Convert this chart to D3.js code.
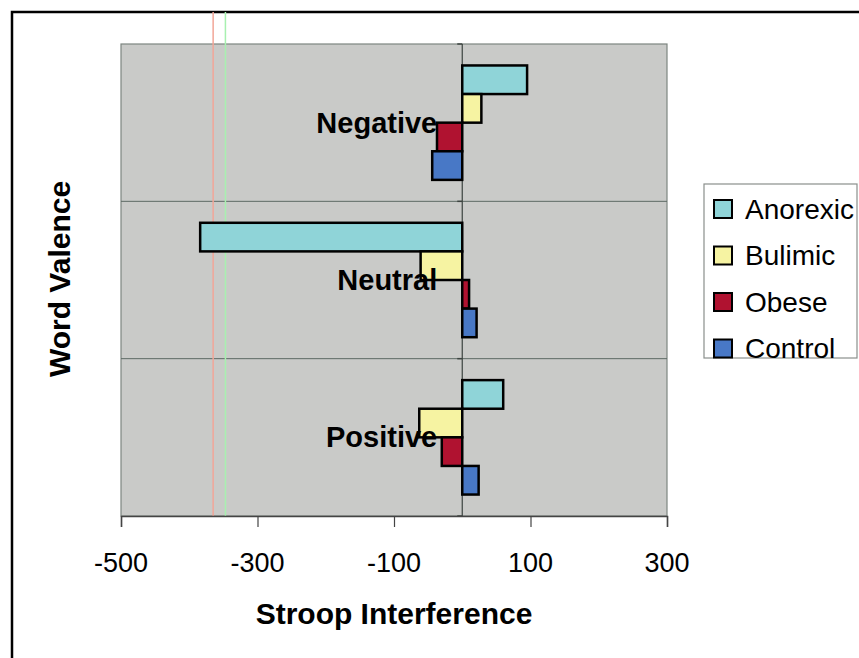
<!DOCTYPE html>
<html>
<head>
<meta charset="utf-8">
<script src="https://cdn.jsdelivr.net/npm/d3@7"></script>
<style>
body { margin: 0; background: #fff; }
svg { display: block; }
text { font-family: "Liberation Sans", Arial, sans-serif; fill: #000; }
</style>
</head>
<body>
<svg id="chart" width="859" height="658"></svg>
<script>
var CATEGORIES = ["Negative", "Neutral", "Positive"];
var SERIES = ["Anorexic", "Bulimic", "Obese", "Control"];
var ANOREXIC = [95, -384, 60];
var BULIMIC = [28, -61, -63];
var OBESE = [-37, 10, -30];
var CONTROL = [-44, 21, 24];
var X_TICKS = [-500, -300, -100, 100, 300];
var COLORS = ["#8fd4d8", "#f6f3a2", "#b01230", "#4878c6"];

var values = [ANOREXIC, BULIMIC, OBESE, CONTROL];
var LEFT = 121, RIGHT = 667, TOP = 44, BOTTOM = 516;

var svg = d3.select("#chart");

// outer chart frame (only top / left visible in the scan)
svg.append("path").attr("d", "M12,658V12H859").attr("fill", "none").attr("stroke", "#000").attr("stroke-width", 2.5);

var x = d3.scaleLinear().domain([-500, 300]).range([LEFT, RIGHT]);
var y = d3.scaleBand().domain(CATEGORIES).range([TOP, BOTTOM]);
var inner = d3.scaleBand().domain(SERIES).range([0, y.bandwidth()]).paddingOuter(0.75);

svg.append("rect").attr("x", LEFT).attr("y", TOP).attr("width", RIGHT - LEFT).attr("height", BOTTOM - TOP)
	.attr("fill", "#c9cac8").attr("stroke", "#7d8580").attr("stroke-width", 1.2);

// category grid lines
svg.selectAll("line.grid").data(CATEGORIES.slice(1)).enter().append("line").attr("class", "grid")
	.attr("x1", LEFT).attr("x2", RIGHT).attr("y1", d => y(d)).attr("y2", d => y(d))
	.attr("stroke", "#5d6a64").attr("stroke-width", 1);

// scan artefact lines
svg.append("line").attr("x1", x(-365)).attr("x2", x(-365)).attr("y1", 12).attr("y2", BOTTOM).attr("stroke", "#f2a698").attr("stroke-width", 1.5);
svg.append("line").attr("x1", x(-347)).attr("x2", x(-347)).attr("y1", 12).attr("y2", BOTTOM).attr("stroke", "#a8f0b0").attr("stroke-width", 1.5);

// zero axis with small ticks at category boundaries
svg.append("line").attr("x1", x(0)).attr("x2", x(0)).attr("y1", TOP).attr("y2", BOTTOM).attr("stroke", "#3c4440").attr("stroke-width", 1.2);
svg.selectAll("line.ytick").data([TOP, y("Neutral"), y("Positive"), BOTTOM]).enter().append("line").attr("class", "ytick")
	.attr("x1", x(0) - 5).attr("x2", x(0)).attr("y1", d => d).attr("y2", d => d).attr("stroke", "#3c4440").attr("stroke-width", 1.5);

// x axis
var xAxis = svg.append("g").attr("transform", "translate(0," + BOTTOM + ")")
	.call(d3.axisBottom(x).tickValues(X_TICKS).tickSize(11).tickFormat(""));
xAxis.select(".domain").attr("stroke", "#444").attr("stroke-width", 1.5);
xAxis.selectAll(".tick line").attr("stroke", "#444").attr("stroke-width", 1.2);
svg.selectAll("text.xlabel").data(X_TICKS).enter().append("text").attr("class", "xlabel")
	.attr("x", d => x(d)).attr("y", 572).attr("text-anchor", "middle").attr("font-size", 27).text(d => d);

// bars
var groups = svg.selectAll("g.cat").data(CATEGORIES).enter().append("g").attr("class", "cat")
	.attr("transform", d => "translate(0," + y(d) + ")");

groups.selectAll("rect.bar").data((c, ci) => SERIES.map((s, si) => ({ s: s, si: si, v: values[si][ci] })))
	.enter().append("rect").attr("class", "bar")
	.attr("x", d => x(Math.min(0, d.v))).attr("width", d => Math.abs(x(d.v) - x(0)))
	.attr("y", d => inner(d.s)).attr("height", inner.bandwidth())
	.attr("fill", d => COLORS[d.si]).attr("stroke", "#000").attr("stroke-width", 2.5);

// category labels
groups.append("text").attr("x", x(0) - 25).attr("y", y.bandwidth() / 2).attr("dy", "0.35em")
	.attr("text-anchor", "end").attr("font-size", 29).attr("font-weight", "bold").text(d => d);

// axis titles
svg.append("text").attr("x", (LEFT + RIGHT) / 2).attr("y", 624).attr("text-anchor", "middle")
	.attr("font-size", 30).attr("font-weight", "bold").text("Stroop Interference");
svg.append("text").attr("transform", "translate(70,279) rotate(-90)").attr("text-anchor", "middle")
	.attr("font-size", 30).attr("font-weight", "bold").text("Word Valence");

// legend
var legend = svg.append("g");
legend.append("rect").attr("x", 704).attr("y", 184).attr("width", 153).attr("height", 174)
	.attr("fill", "#fff").attr("stroke", "#8a8f8c").attr("stroke-width", 1.2);
var items = legend.selectAll("g.item").data(SERIES).enter().append("g").attr("class", "item")
	.attr("transform", (d, i) => "translate(714," + (209 + i * 46.5) + ")");
items.append("rect").attr("x", 0).attr("y", -9).attr("width", 18).attr("height", 18)
	.attr("fill", (d, i) => COLORS[i]).attr("stroke", "#000").attr("stroke-width", 2);
items.append("text").attr("x", 31).attr("y", 0).attr("dy", "0.35em").attr("font-size", 28).text(d => d);
</script>
</body>
</html>
